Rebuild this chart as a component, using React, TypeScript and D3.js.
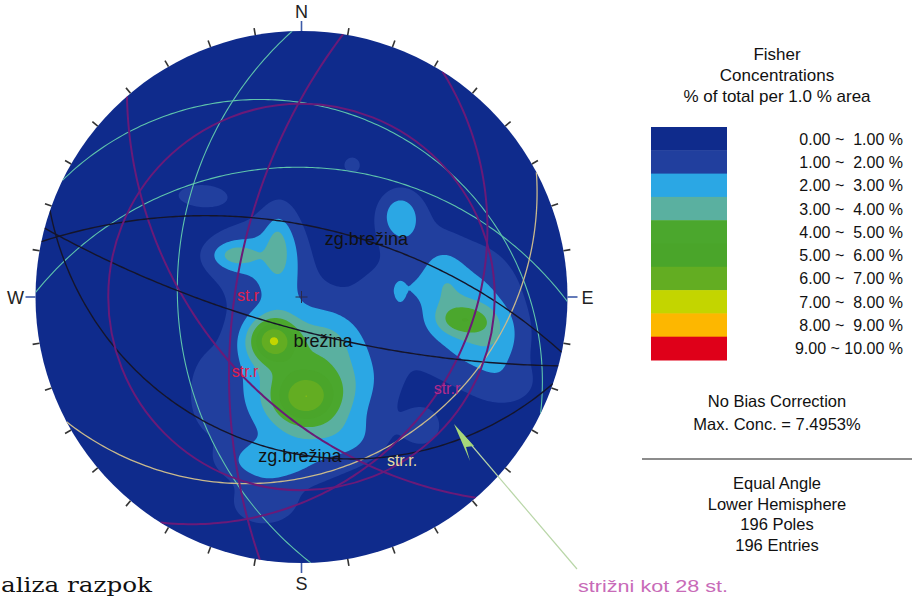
import React, { useMemo } from "react";
import * as d3 from "d3";

const W = 914;
const H = 598;

// ---------- legend ----------
const legendLabels = [
  "0.00 ~  1.00 %",
  "1.00 ~  2.00 %",
  "2.00 ~  3.00 %",
  "3.00 ~  4.00 %",
  "4.00 ~  5.00 %",
  "5.00 ~  6.00 %",
  "6.00 ~  7.00 %",
  "7.00 ~  8.00 %",
  "8.00 ~  9.00 %",
  "9.00 ~ 10.00 %",
];
const bandColors = [
  "#0f2b8c",
  "#213f9e",
  "#2ba7e4",
  "#5ab0a0",
  "#4ba72d",
  "#4aa52a",
  "#63ad22",
  "#c3d500",
  "#fdb700",
  "#df0019",
];
const thresholds = [1, 2, 3, 4, 5, 6, 7, 8, 9];
const titleLines = ["Fisher", "Concentrations", "% of total per 1.0 % area"];
const infoTop = ["No Bias Correction", "Max. Conc. = 7.4953%"];
const infoBottom = ["Equal Angle", "Lower Hemisphere", "196 Poles", "196 Entries"];

// ---------- pole concentration kernels (east, north as fraction of primitive radius; amplitude in %) ----------
const blobEast = [-0.077, -0.25, -0.246, -0.092, -0.382, -0.175, 0.37, 0.19, 0.389, 0.607, 0.539, 0.727, 0.784, 0.633, 0.626, -0.043, -0.111, 0.013, -0.006, -0.137, 0.182, -0.363, -0.148, 0.182, 0.107, 0.457, 0.37, 0.333];
const blobNorth = [0.177, 0.158, 0.158, 0.195, 0.383, 0.158, 0.316, 0.496, 0.195, -0.086, 0.064, -0.162, -0.331, -0.068, -0.056, -0.387, -0.162, -0.38, -0.293, -0.62, -0.312, -0.368, -0.782, -0.538, -0.143, -0.492, 0.015, 0.026];
const blobAmp = [1.5, 1.3, 1.0, 0.9, 1.4, 1.3, 1.9, 1.3, 1.0, 2.1, 0.9, 1.1, 1.0, 1.4, 1.2, 1.1, 4.65, 3.7, 2.0, 1.6, 1.0, 0.85, 1.4, 1.0, 1.0, 1.4, 1.1, 0.85];
const blobSigE = [0.056, 0.083, 0.049, 0.023, 0.09, 0.15, 0.06, 0.038, 0.105, 0.075, 0.053, 0.083, 0.094, 0.169, 0.132, 0.226, 0.064, 0.09, 0.188, 0.12, 0.132, 0.056, 0.083, 0.113, 0.094, 0.053, 0.011, 0.094];
const blobSigN = [0.143, 0.049, 0.026, 0.056, 0.041, 0.132, 0.068, 0.038, 0.132, 0.041, 0.094, 0.075, 0.068, 0.207, 0.169, 0.3, 0.06, 0.075, 0.207, 0.053, 0.113, 0.113, 0.056, 0.068, 0.075, 0.053, 0.023, 0.053];

// ---------- planes (great circles) ----------
const planeDipDir = [268, 1, 26, 152, 279, 229, 122, 12, 195, 199];
const planeDip = [40, 38, 19.5, 24, 62, 50, 26, 60, 76, 30];
const planeSet = ["cyan", "cyan", "cyan", "beige", "purple", "purple", "purple", "black", "black", "black"];
const setColor: Record<string, string> = {
  cyan: "#5fc4ac",
  beige: "#c9b98c",
  purple: "#6a1a78",
  black: "#15152a",
};
const setWidth: Record<string, number> = { cyan: 1.1, beige: 1.3, purple: 2, black: 1.4 };
// friction cone (angle from vertical)
const coneAngle = [72];

// ---------- labels on the net (east, north fraction of radius) ----------
const netLabelText = ["zg.brežina", "brežina", "zg.brežina", "st.r", "str.r", "str.r", "str.r."];
const netLabelEast = [0.244, 0.081, -0.006, -0.201, -0.212, 0.547, 0.378];
const netLabelNorth = [0.214, -0.169, -0.602, 0.0, -0.286, -0.35, -0.62];
const netLabelColor = ["#111", "#111", "#111", "#e0204c", "#e0204c", "#b02a8e", "#e9dca0"];
const netLabelSize = [18, 18, 18, 16, 16, 16, 16];

const compass = ["N", "E", "S", "W"];

export default function App() {
  const cx = 301.5;
  const cy = 297;
  const R = 266;

  const project = (trend: number, plunge: number): [number, number] => {
    const rho = R * Math.tan(((90 - plunge) / 2) * (Math.PI / 180));
    const t = (trend * Math.PI) / 180;
    return [cx + rho * Math.sin(t), cy - rho * Math.cos(t)];
  };

  const contourPaths = useMemo(() => {
    const step = 2;
    const x0 = cx - R - 4;
    const y0 = cy - R - 4;
    const nx = Math.ceil((2 * R + 8) / step);
    const ny = nx;
    const values = new Array(nx * ny);
    for (let j = 0; j < ny; j++) {
      for (let i = 0; i < nx; i++) {
        const px = x0 + (i + 0.5) * step;
        const py = y0 + (j + 0.5) * step;
        const e = (px - cx) / R;
        const n = (cy - py) / R;
        let v = 0;
        for (let k = 0; k < blobAmp.length; k++) {
          const de = (e - blobEast[k]) / blobSigE[k];
          const dn = (n - blobNorth[k]) / blobSigN[k];
          v += blobAmp[k] * Math.exp(-0.5 * (de * de + dn * dn));
        }
        values[j * nx + i] = v;
      }
    }
    const contours = d3.contours().size([nx, ny]).smooth(true).thresholds(thresholds)(values);
    const path = d3.geoPath(d3.geoIdentity().scale(step).translate([x0, y0]) as any);
    return contours.map((c, idx) => ({ d: path(c as any) || "", color: bandColors[idx + 1] }));
  }, []);

  const greatCircles = useMemo(() => {
    return planeDipDir.map((dd, idx) => {
      const dip = planeDip[idx];
      const ddr = (dd * Math.PI) / 180;
      const dr = (dip * Math.PI) / 180;
      const s = [Math.sin(ddr - Math.PI / 2), Math.cos(ddr - Math.PI / 2), 0];
      const dv = [Math.cos(dr) * Math.sin(ddr), Math.cos(dr) * Math.cos(ddr), -Math.sin(dr)];
      const pts: [number, number][] = [];
      for (let a = 0; a <= 180; a += 1) {
        const t = (a * Math.PI) / 180;
        const x = Math.cos(t) * s[0] + Math.sin(t) * dv[0];
        const y = Math.cos(t) * s[1] + Math.sin(t) * dv[1];
        const z = Math.cos(t) * s[2] + Math.sin(t) * dv[2];
        const plunge = (Math.asin(Math.min(1, Math.max(-1, -z))) * 180) / Math.PI;
        const trend = (Math.atan2(x, y) * 180) / Math.PI;
        pts.push(project(trend, plunge));
      }
      return { d: d3.line()(pts) || "", set: planeSet[idx] };
    });
  }, []);

  const ticks = d3.range(0, 360, 10);
  const font = "'Liberation Sans', Arial, sans-serif";

  const legX = 651;
  const legY = 127;
  const bandH = 23.3;
  const infoX = 777;

  return (
    <svg width={W} height={H} style={{ position: "absolute", left: 0, top: 0, background: "#fff" }}>
      <defs>
        <clipPath id="prim">
          <circle cx={cx} cy={cy} r={R} />
        </clipPath>
      </defs>
      <circle cx={cx} cy={cy} r={R} fill={bandColors[0]} />
      <g clipPath="url(#prim)">
        {contourPaths.map((c, i) => (
          <path key={i} d={c.d} fill={c.color} stroke="none" />
        ))}
        {greatCircles.map((g, i) => (
          <path key={i} d={g.d} fill="none" stroke={setColor[g.set]} strokeWidth={setWidth[g.set]} />
        ))}
        {coneAngle.map((a, i) => (
          <circle
            key={i}
            cx={cx}
            cy={cy}
            r={R * Math.tan(((a / 2) * Math.PI) / 180)}
            fill="none"
            stroke={setColor.purple}
            strokeWidth={2}
          />
        ))}
        <path d={`M${cx - 6},${cy}H${cx + 6}M${cx},${cy - 6}V${cy + 6}`} stroke="#2a2a4a" strokeWidth={1} />
      </g>
      {ticks.map((t) => {
        const isMain = t % 90 === 0;
        const len = isMain ? 10 : 7;
        const a = (t * Math.PI) / 180;
        const x1 = cx + R * Math.sin(a);
        const y1 = cy - R * Math.cos(a);
        const x2 = cx + (R + len) * Math.sin(a);
        const y2 = cy - (R + len) * Math.cos(a);
        return (
          <line key={t} x1={x1} y1={y1} x2={x2} y2={y2} stroke={isMain ? "#3d5aa8" : "#333"} strokeWidth={1.6} />
        );
      })}
      {compass.map((c, i) => {
        const a = (i * 90 * Math.PI) / 180;
        const d = R + 20;
        return (
          <text
            key={c}
            x={cx + d * Math.sin(a)}
            y={cy - d * Math.cos(a) + 7}
            textAnchor="middle"
            fontFamily={font}
            fontSize={18}
            fill="#222"
          >
            {c}
          </text>
        );
      })}
      {netLabelText.map((t, i) => (
        <text
          key={i}
          x={cx + netLabelEast[i] * R}
          y={cy - netLabelNorth[i] * R}
          textAnchor="middle"
          dominantBaseline="middle"
          fontFamily={font}
          fontSize={netLabelSize[i]}
          fill={netLabelColor[i]}
        >
          {t}
        </text>
      ))}
      <line x1={577} y1={569} x2={462} y2={434} stroke="#b9d6a8" strokeWidth={1.2} />
      <path d="M454,424 L474,446 L466,447 L470,461 Z" fill="#a6d77a" />
      <text x={578} y={592} fontFamily={font} fontSize={17} fill="#c86bb8" textLength={150} lengthAdjust="spacingAndGlyphs">
        strižni kot 28 st.
      </text>
      <text
        x={1}
        y={592}
        fontFamily="'DejaVu Serif', 'Liberation Serif', serif"
        fontSize={20}
        fill="#111"
        textLength={151}
        lengthAdjust="spacingAndGlyphs"
      >
        aliza razpok
      </text>
      {titleLines.map((t, i) => (
        <text key={i} x={infoX} y={60 + i * 21} textAnchor="middle" fontFamily={font} fontSize={17} fill="#111">
          {t}
        </text>
      ))}
      {bandColors.map((c, i) => (
        <rect key={i} x={legX} y={legY + i * bandH} width={76} height={bandH + 0.5} fill={c} />
      ))}
      {legendLabels.map((t, i) => (
        <text
          key={i}
          x={903}
          y={legY + i * bandH + bandH / 2 + 6}
          textAnchor="end"
          fontFamily={font}
          fontSize={16}
          fill="#111"
          style={{ whiteSpace: "pre" }}
        >
          {t}
        </text>
      ))}
      {infoTop.map((t, i) => (
        <text key={i} x={infoX} y={407 + i * 23} textAnchor="middle" fontFamily={font} fontSize={16.5} fill="#111">
          {t}
        </text>
      ))}
      <line x1={642} y1={459} x2={912} y2={459} stroke="#666" strokeWidth={1.5} />
      {infoBottom.map((t, i) => (
        <text key={i} x={infoX} y={489 + i * 20.5} textAnchor="middle" fontFamily={font} fontSize={16.5} fill="#111">
          {t}
        </text>
      ))}
    </svg>
  );
}
